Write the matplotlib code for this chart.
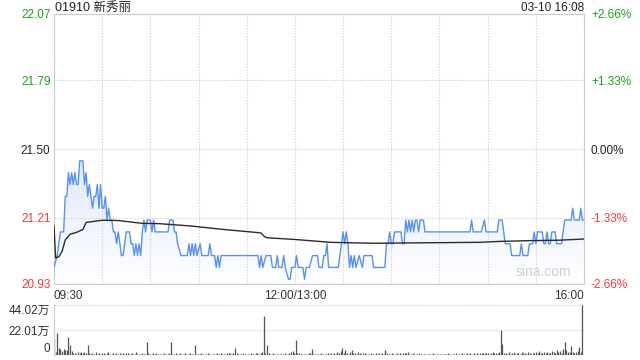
import numpy as np
import matplotlib.pyplot as plt
from matplotlib.colors import LinearSegmentedColormap

plt.rcParams['font.family'] = ['Liberation Sans', 'Noto Sans CJK SC', 'DejaVu Sans']

title = "01910 新秀丽"
stamp = "03-10 16:08"

# minutes since 09:30 (lunch break removed), price
price_t = [0, 2, 3, 4, 6, 7, 8, 9, 10, 11, 12, 13, 14, 15, 16, 18, 19, 20, 21, 22,
           23, 24, 25, 26, 27, 28, 29, 30, 31, 32, 33, 34, 35, 36, 37, 38, 39, 40, 41, 42,
           43, 44, 45, 47, 48, 49, 50, 51, 52, 53, 54, 55, 56, 57, 58, 60, 61, 62, 63, 71,
           72, 74, 75, 76, 77, 79, 83, 84, 85, 86, 87, 88, 89, 91, 92, 96, 97, 98, 100, 101,
           102, 103, 104, 127, 128, 129, 130, 132, 135, 136, 138, 139, 140, 142, 143, 144, 146, 147, 148, 150, 151,
           152, 155, 156, 157, 159, 161, 164, 165, 167, 168, 169, 170, 171, 177, 179, 180, 181, 182, 183, 184,
           185, 186, 187, 188, 190, 192, 193, 198, 199, 206, 207, 208, 209, 210, 211, 212, 216, 217, 218, 219,
           220, 221, 222, 223, 224, 225, 226, 227, 228, 230, 231, 259, 260, 261, 266, 268, 269, 276, 277, 279,
           281, 284, 285, 290, 291, 292, 295, 296, 298, 299, 300, 301, 304, 305, 306, 307, 308, 309, 310, 312,
           313, 316, 318, 322, 323, 324, 327, 328, 329, 330]
price_v = [21.00, 21.05, 21.10, 21.15, 21.15, 21.30, 21.30, 21.40, 21.35, 21.40, 21.35, 21.40, 21.35, 21.35, 21.45, 21.45, 21.35, 21.40, 21.30, 21.35,
           21.30, 21.25, 21.30, 21.30, 21.35, 21.25, 21.35, 21.25, 21.25, 21.30, 21.20, 21.25, 21.20, 21.20, 21.15, 21.15, 21.10, 21.15, 21.10, 21.05,
           21.05, 21.10, 21.15, 21.15, 21.10, 21.10, 21.05, 21.10, 21.05, 21.10, 21.05, 21.15, 21.20, 21.15, 21.20, 21.20, 21.15, 21.20, 21.15, 21.15,
           21.20, 21.20, 21.15, 21.15, 21.10, 21.05, 21.05, 21.10, 21.05, 21.10, 21.05, 21.10, 21.05, 21.10, 21.05, 21.05, 21.10, 21.05, 21.05, 21.00,
           21.05, 21.00, 21.05, 21.05, 21.00, 21.05, 21.00, 21.05, 21.05, 21.00, 21.00, 21.05, 21.00, 21.00, 21.05, 21.00, 20.95, 20.95, 21.00, 21.00, 21.05,
           21.00, 21.00, 20.95, 21.00, 21.00, 21.05, 21.05, 21.00, 21.00, 21.05, 21.05, 21.10, 21.00, 21.00, 21.10, 21.15, 21.10, 21.15, 21.10, 21.00,
           21.05, 21.00, 21.05, 21.00, 21.05, 21.00, 21.05, 21.05, 21.00, 21.00, 21.10, 21.10, 21.15, 21.10, 21.10, 21.15, 21.15, 21.10, 21.10, 21.20,
           21.15, 21.20, 21.15, 21.20, 21.15, 21.20, 21.20, 21.15, 21.20, 21.20, 21.15, 21.15, 21.20, 21.15, 21.15, 21.20, 21.15, 21.15, 21.20, 21.20,
           21.10, 21.10, 21.05, 21.05, 21.10, 21.05, 21.05, 21.10, 21.10, 21.15, 21.10, 21.15, 21.15, 21.10, 21.10, 21.15, 21.10, 21.10, 21.15, 21.15,
           21.10, 21.10, 21.20, 21.20, 21.25, 21.20, 21.20, 21.25, 21.20, 21.20]

avg_t = [0, 1, 3, 5, 7, 10, 14, 18, 20, 30, 40, 55, 65, 85, 106, 127, 129, 131, 133, 150,
         172, 199, 230, 265, 278, 296, 315, 330]
avg_v = [21.175, 21.04, 21.045, 21.067, 21.116, 21.14, 21.148, 21.16, 21.19, 21.199, 21.198, 21.186, 21.185, 21.175, 21.16, 21.147, 21.145, 21.13, 21.125, 21.118,
         21.106, 21.102, 21.104, 21.106, 21.11, 21.113, 21.115, 21.12]

# volume per minute, 万
volume = [14.7, 3.0, 19.6, 5.9, 5.0, 3.2, 5.0, 4.1, 4.3, 16.2, 8.8, 3.1, 2.0, 1.5, 1.2, 2.4, 1.8, 2.6, 1.4, 3.0, 2.2, 8.8, 1.6, 1.1, 1.9, 1.3, 2.5, 1.0, 1.7, 1.2,
          1.4, 2.1, 1.0, 1.6, 2.3, 1.2, 0.9, 1.8, 1.1, 2.0, 1.3, 1.5, 0.8, 2.2, 1.0, 1.4, 1.9, 1.1, 0.9, 1.6, 1.2, 2.4, 1.0, 1.3, 0.8, 1.7, 1.1, 1.0, 11.7, 1.5,
          1.2, 0.9, 1.4, 1.0, 1.8, 0.7, 1.1, 1.3, 0.9, 1.6, 1.0, 1.2, 1.4, 11.7, 1.3, 0.9, 1.5, 1.1, 1.0, 1.7, 0.8, 1.2, 1.4, 1.0, 0.9, 1.6, 1.1, 1.3, 8.8, 1.2,
          0.9, 1.1, 1.4, 0.8, 1.2, 1.0, 1.5, 0.9, 1.3, 1.1, 0.8, 1.2, 1.6, 1.0, 1.4, 0.9, 1.1, 1.3, 1.8, 2.2, 1.5, 1.0, 1.9, 5.9, 1.4, 1.1, 0.9, 1.2, 1.6, 1.0,
          1.3, 0.8, 1.1, 1.5, 1.0, 0.9, 1.4, 2.0, 1.2, 1.8, 2.5, 34.3, 2.0, 8.8, 1.6, 1.2, 1.0, 1.4, 0.9, 1.1, 1.3, 0.8, 1.2, 1.0, 1.5, 0.9, 1.3, 1.8, 2.6, 3.1,
          1.9, 13.2, 2.2, 1.5, 1.1, 1.3, 0.9, 1.2, 1.0, 1.6, 1.4, 5.0, 1.2, 0.9, 1.1, 1.3, 1.0, 1.5, 1.2, 0.8, 1.1, 1.4, 1.0, 1.7, 1.3, 2.0, 1.1, 2.4, 1.6, 3.3,
          5.9, 2.1, 4.2, 1.8, 1.3, 2.6, 4.0, 1.5, 2.2, 1.2, 2.8, 1.6, 1.0, 1.4, 1.9, 1.1, 1.3, 1.0, 1.5, 0.9, 1.2, 1.6, 1.0, 1.4, 1.1, 2.0, 1.3, 4.0, 1.6, 1.2,
          1.0, 1.4, 1.1, 1.3, 1.8, 1.0, 1.5, 1.2, 2.2, 1.4, 1.9, 2.4, 1.3, 1.0, 1.6, 1.2, 0.9, 1.1, 1.4, 1.0, 1.2, 0.8, 1.3, 1.1, 0.9, 1.2, 1.0, 1.4, 0.8, 1.1,
          1.3, 0.9, 1.0, 1.2, 0.8, 1.1, 1.4, 1.0, 0.9, 1.3, 1.1, 1.5, 1.0, 1.2, 0.9, 1.6, 1.1, 1.3, 1.4, 1.0, 1.7, 1.2, 1.5, 1.1, 1.8, 1.3, 2.0, 1.4, 1.6, 2.2,
          1.5, 1.9, 1.3, 1.7, 2.4, 1.4, 2.0, 1.6, 2.6, 22.0, 9.7, 1.5, 2.2, 1.3, 2.8, 1.2, 1.7, 2.4, 1.1, 1.5, 2.0, 1.3, 3.0, 1.4, 1.8, 1.2, 2.6, 1.5, 1.3, 2.0,
          1.6, 2.3, 1.4, 3.2, 1.8, 1.5, 2.6, 1.9, 3.0, 1.7, 2.2, 3.6, 2.5, 1.8, 4.1, 2.4, 3.8, 2.0, 5.2, 11.7, 4.5, 2.6, 3.0, 7.9, 2.3, 1.8, 2.5, 3.4, 7.3, 2.6, 44.02]

price_ticks = [20.93, 21.21, 21.50, 21.79, 22.07]
price_labels = ["20.93", "21.21", "21.50", "21.79", "22.07"]
pct_labels = ["-2.66%", "-1.33%", "0.00%", "+1.33%", "+2.66%"]
tick_colors = ["#f03b3b", "#f03b3b", "#222222", "#1aa31a", "#1aa31a"]
time_ticks = [0, 150, 330]
time_labels = ["09:30", "12:00/13:00", "16:00"]
vol_ticks = [0, 22.01, 44.02]
vol_labels = ["0", "22.01万", "44.02万"]

grid_c = "#cccccc"
fig = plt.figure(figsize=(6.4, 3.6), dpi=100)
ax = fig.add_axes([54 / 640, 1 - 284 / 360, 530 / 640, 270 / 360])
axv = fig.add_axes([54 / 640, 1 - 355 / 360, 530 / 640, 50 / 360])

# gradient fill under the price line
poly = ax.fill_between(price_t, price_v, 20.93, color="none", lw=0)
cmap = LinearSegmentedColormap.from_list("fade", ["#ffffff", "#dfe9fb"])
grad = np.linspace(0, 1, 256).reshape(-1, 1)
img = ax.imshow(grad, extent=[0, 330, 20.93, 21.45], origin="lower", cmap=cmap,
                aspect="auto", zorder=1)
img.set_clip_path(poly.get_paths()[0], transform=ax.transData)
ax.set_xlim(0, 330)
ax.set_ylim(20.93, 22.07)

ax.plot(price_t, price_v, color="#5592f3", lw=1.0, zorder=3)
ax.plot(avg_t, avg_v, color="#2b2b2b", lw=1.0, zorder=4)

ax.set_yticks(price_ticks)
ax.set_yticklabels(price_labels, fontsize=8.5)
for lab, c in zip(ax.get_yticklabels(), tick_colors):
    lab.set_color(c)
ax.set_xticks(range(0, 331, 30))
ax.set_xticklabels([time_labels[time_ticks.index(t)] if t in time_ticks else "" for t in range(0, 331, 30)],
                   fontsize=8.5, color="#333333")
xl = ax.get_xticklabels()
xl[0].set_horizontalalignment("left")
xl[-1].set_horizontalalignment("right")
ax.tick_params(axis="x", length=0, pad=4)
ax.tick_params(axis="y", length=0, pad=2.5)
ax.grid(True, color=grid_c, ls=(0, (1, 1.5)), lw=0.8)
for s in ax.spines.values():
    s.set_color(grid_c)

ax2 = ax.twinx()
ax2.set_ylim(20.93, 22.07)
ax2.set_yticks(price_ticks)
ax2.set_yticklabels(pct_labels, fontsize=8.5)
for lab, c in zip(ax2.get_yticklabels(), tick_colors):
    lab.set_color(c)
ax2.tick_params(length=0, pad=5)
for s in ax2.spines.values():
    s.set_visible(False)

ax.text(0.923, 0.02, "sina.com", transform=ax.transAxes, ha="center", va="bottom",
        fontsize=10, color="#d0d0d0", zorder=5)

# volume
axv.vlines(range(len(volume)), 0, volume, color="#555555", lw=0.9)
axv.set_xlim(0, 331)
axv.set_ylim(0, 44.02)
axv.set_yticks(vol_ticks)
axv.set_yticklabels(vol_labels, fontsize=8.5, color="#333333")
vl = axv.get_yticklabels()
vl[0].set_verticalalignment("bottom")
vl[-1].set_verticalalignment("top")
axv.set_xticks([])
axv.tick_params(length=0, pad=3)
axv.grid(True, axis="y", color=grid_c, ls=(0, (1, 1.5)), lw=0.8)
for k, s in axv.spines.items():
    s.set_visible(k == "left")
    s.set_color(grid_c)

fig.text(55 / 640, 1 - 8 / 360, title, ha="left", va="center", fontsize=9, color="#222222")
fig.text(584 / 640, 1 - 8 / 360, stamp, ha="right", va="center", fontsize=8.5, color="#222222")

fig.savefig("out.png", dpi=100)
